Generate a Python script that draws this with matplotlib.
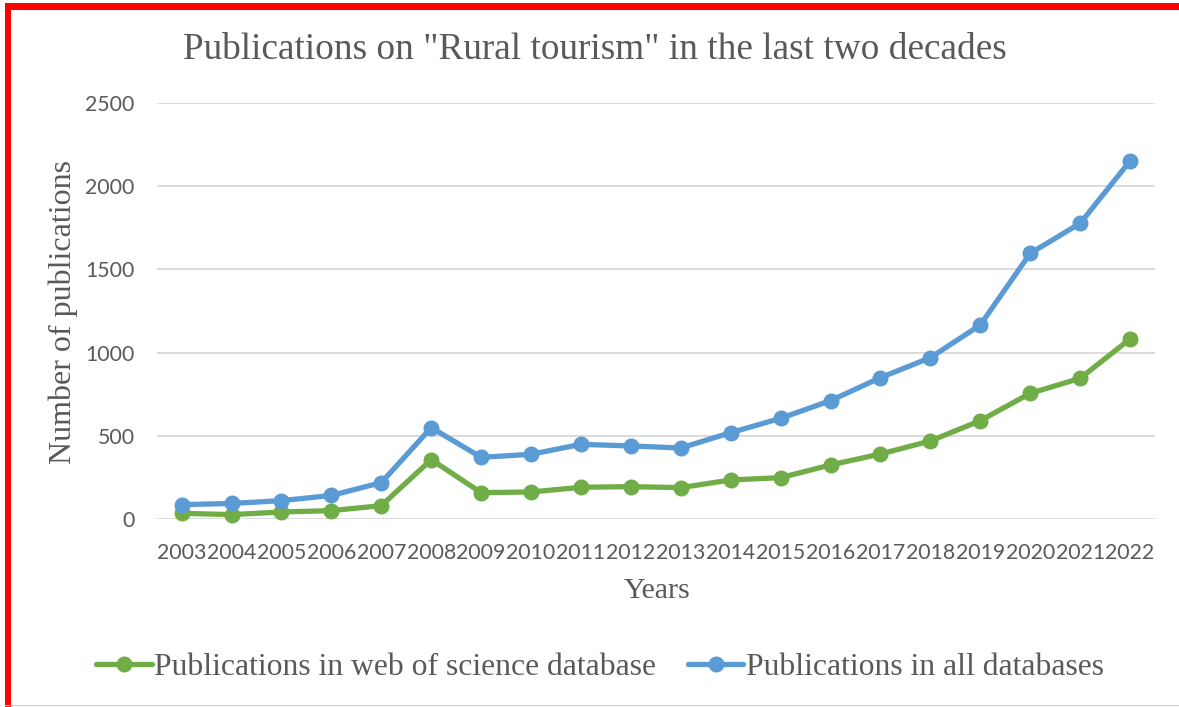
import matplotlib
matplotlib.use("Agg")
import matplotlib.pyplot as plt
from matplotlib.patches import Rectangle

years = [str(y) for y in range(2003, 2023)]
wos_counts = [36, 28, 44, 52, 82, 358, 160, 164, 192, 196,
              190, 236, 250, 326, 392, 470, 592, 756, 846, 1082]
all_counts = [88, 95, 112, 143, 220, 550, 372, 390, 450, 440,
              428, 520, 606, 712, 850, 970, 1166, 1596, 1776, 2150]
y_ticks = [0, 500, 1000, 1500, 2000, 2500]

title = 'Publications on "Rural tourism" in the last two decades'
wos_label = "Publications in web of science database"
all_label = "Publications in all databases"

GREEN = "#70AD47"
BLUE = "#5B9BD5"
TEXT = "#595959"
GRID = "#D9D9D9"
SERIF = ["Liberation Serif", "DejaVu Serif"]

W, H = 1179, 707
fig = plt.figure(figsize=(W / 100, H / 100), dpi=100)
ax = fig.add_axes([156.7 / W, 1 - 519.3 / H, (1155 - 156.7) / W, (519.3 - 102.7) / H])

x = list(range(len(years)))
style = dict(linewidth=3.8, marker="o", markersize=10.5, solid_capstyle="round",
             solid_joinstyle="round", clip_on=False)
ax.plot(x, wos_counts, color=GREEN, label=wos_label, zorder=3, **style)
ax.plot(x, all_counts, color=BLUE, label=all_label, zorder=4, **style)

ax.set_xlim(-0.5, len(years) - 0.5)
ax.set_ylim(0, 2500)
ax.set_yticks(y_ticks)
ax.set_yticklabels([str(v) for v in y_ticks])
ax.set_xticks(x)
ax.set_xticklabels(years)
ax.grid(axis="y", color=GRID, linewidth=1.3)
ax.set_axisbelow(True)
for s in ax.spines.values():
    s.set_visible(False)
ax.tick_params(length=0, labelsize=15.3, labelcolor=TEXT, labelfontfamily="Lato")
ax.tick_params(axis="x", pad=17)
ax.tick_params(axis="y", pad=16)

fig.text(595 / W, 1 - 50 / H, title, ha="center", va="center",
         fontsize=26.8, color=TEXT, family=SERIF)
fig.text(63 / W, 1 - 312 / H, "Number of publications", ha="center", va="center",
         rotation=90, fontsize=23, color=TEXT, family=SERIF)
fig.text(657 / W, 1 - 591 / H, "Years", ha="center", va="center",
         fontsize=21.5, color=TEXT, family=SERIF)

leg = fig.legend(loc="center", bbox_to_anchor=(600 / W, 1 - 667 / H), ncol=2,
                 frameon=False, prop={"family": SERIF, "size": 22.8},
                 handlelength=1.75, handletextpad=0.08, columnspacing=1.0,
                 labelcolor=TEXT)

# frame around the figure
fig.patches.append(Rectangle((5 / W, 0), 6 / W, 1 - 3 / H, transform=fig.transFigure,
                             facecolor="#FF0000", edgecolor="none"))
fig.patches.append(Rectangle((5 / W, 1 - 9.5 / H), 1 - 5 / W, 6.3 / H,
                             transform=fig.transFigure, facecolor="#FF0000",
                             edgecolor="none"))
fig.patches.append(Rectangle((5 / W, 1.2 / H), 1 - 5 / W, 1.3 / H,
                             transform=fig.transFigure, facecolor="#FFB8B8",
                             edgecolor="none"))

fig.savefig("out.png", dpi=100, facecolor="white")
